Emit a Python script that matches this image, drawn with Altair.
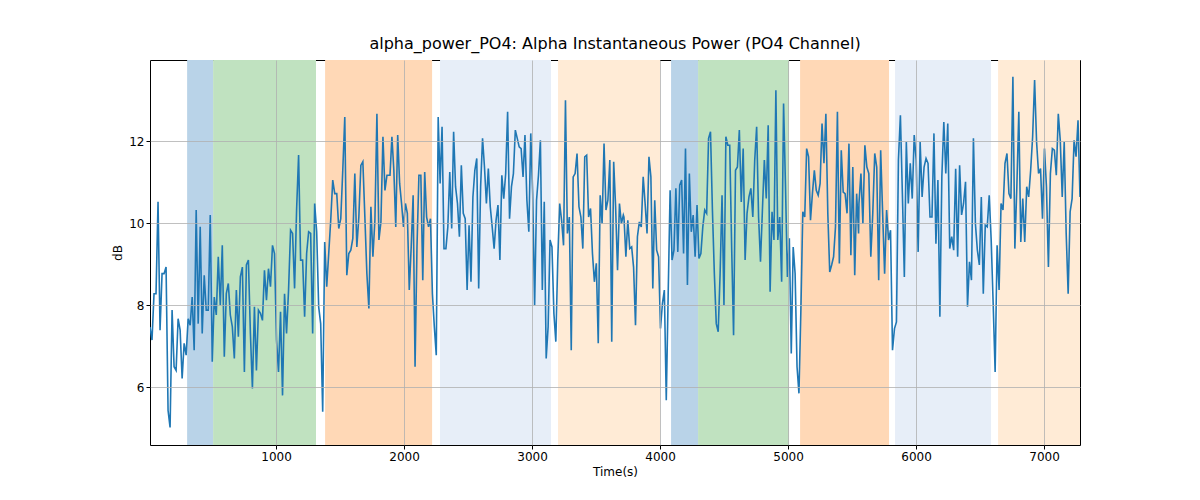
import altair as alt
import numpy as np
import pandas as pd

TITLE = "alpha_power_PO4: Alpha Instantaneous Power (PO4 Channel)"

# shaded epochs
span_start = [305, 508, 1383, 2281, 3203, 4086, 4297, 5094, 5836, 6641]
span_end = [508, 1312, 2219, 3148, 4000, 4297, 5008, 5789, 6586, 7281]
span_kind = ["a", "b", "c", "d", "e", "a", "b", "c", "d", "e"]
kind_colors = ["#b9d3e8", "#c0e2c0", "#ffd8b6", "#e7eef8", "#ffebd6"]

# signal, read chunk by chunk (start time, end time, values)
chunk1_t = (15, 1882)
chunk1 = [7.47, 7.15, 8.28, 8.28, 10.52, 7.39, 8.77, 8.77, 8.93, 5.43, 5.02, 7.88, 6.50, 6.41, 7.67,
          7.39, 6.21, 7.07, 6.78, 7.67, 7.51, 8.20, 6.90, 10.32, 7.55, 9.91, 7.31, 8.73, 7.88, 7.88,
          10.20, 6.62, 8.20, 7.76, 9.18, 8.00, 9.46, 6.74, 8.28, 8.53, 7.76, 7.47, 6.70, 8.37, 7.23,
          8.69, 8.93, 6.37, 8.98, 9.10, 7.31, 5.97, 7.96, 6.41, 7.88, 7.80, 7.63, 8.85, 8.12, 8.89,
          8.45, 9.46, 9.26, 7.15, 6.37, 7.84, 5.80, 8.28, 7.31, 8.37, 9.83, 9.75, 8.41, 10.32, 11.66,
          9.10, 9.10, 7.72, 9.26, 9.79, 9.75, 7.31, 10.48, 9.79, 7.96, 7.55, 5.40, 9.54, 8.45, 9.26,
          10.07, 11.05, 10.72, 10.72, 9.87, 10.11, 11.29, 12.59, 8.73, 9.26, 9.34, 9.63, 11.21, 9.42,
          10.15, 11.41, 11.50, 10.15, 8.77, 7.92, 10.40, 9.18, 10.07, 12.67, 9.59, 10.03, 12.11,
          10.80, 11.17, 11.17]
chunk2_t = (1890, 3713)
chunk2 = [11.17, 12.11, 11.29, 9.91, 12.15, 10.97, 10.48, 9.91, 10.48, 10.24, 8.37, 9.42, 10.68,
          6.50, 9.42, 11.17, 11.17, 8.61, 11.25, 10.15, 9.91, 10.11, 8.28, 7.47, 6.78, 12.59, 10.97,
          12.35, 9.38, 9.38, 9.91, 11.25, 9.87, 12.23, 10.89, 10.48, 9.67, 11.41, 10.24, 10.11, 8.37,
          9.95, 8.57, 10.64, 11.29, 11.58, 8.41, 10.89, 12.07, 11.37, 10.48, 11.33, 10.40, 9.91, 9.38,
          10.07, 10.44, 9.10, 11.17, 10.60, 11.21, 12.72, 10.11, 10.89, 11.21, 12.27, 12.07, 11.86,
          11.82, 11.13, 12.15, 10.56, 9.79, 12.19, 10.72, 8.00, 10.56, 11.17, 12.02, 8.37, 10.52,
          6.70, 7.47, 9.59, 9.42, 7.80, 7.11, 9.10, 10.48, 10.07, 9.46, 13.00, 9.75, 10.15, 6.90,
          11.13, 11.21, 11.70, 10.40, 10.15, 9.38, 11.62, 11.66, 10.15, 10.36, 9.26, 8.57, 9.02,
          7.07, 10.68, 9.99, 11.94, 10.32, 10.56, 11.54, 7.11, 11.50, 10.40, 8.85, 10.48, 9.99, 10.20]
chunk3_t = (3718, 5551)
chunk3 = [10.15, 9.18, 10.07, 9.38, 9.42, 8.93, 7.51, 9.67, 10.03, 9.91, 11.13, 10.48, 9.75, 11.62,
          11.13, 8.41, 10.56, 9.34, 9.18, 7.43, 8.04, 8.37, 5.68, 8.28, 10.80, 9.10, 9.34, 10.85,
          9.30, 10.93, 11.05, 9.26, 11.82, 8.49, 11.21, 9.79, 10.20, 9.18, 10.44, 9.14, 9.26, 9.91,
          10.32, 10.24, 12.07, 12.23, 10.32, 8.77, 7.55, 7.35, 8.77, 10.68, 8.00, 12.11, 11.90, 11.90,
          9.42, 7.27, 11.29, 11.37, 12.27, 10.52, 11.82, 9.10, 10.24, 10.64, 10.85, 10.15, 11.54,
          12.35, 10.15, 9.06, 10.32, 11.54, 10.60, 12.39, 8.33, 10.28, 9.59, 13.24, 9.59, 10.15, 8.57,
          12.92, 10.89, 8.69, 9.63, 6.82, 9.42, 8.77, 6.50, 5.85, 7.88, 10.28, 10.15, 11.82, 11.62,
          10.07, 10.72, 11.29, 10.80, 10.68, 10.97, 12.43, 11.46, 12.67, 10.24, 8.81, 8.98, 9.18,
          9.91, 12.72, 9.02, 11.78, 10.76, 10.72, 10.24, 11.94, 9.22, 11.37, 8.73, 10.72, 9.75]
chunk4_t = (5554, 7281)
chunk4 = [10.48, 11.21, 9.99, 11.90, 11.37, 11.21, 9.18, 10.24, 11.70, 11.37, 8.61, 11.78, 10.24,
          8.77, 10.32, 9.59, 9.83, 6.90, 7.43, 7.59, 11.54, 12.63, 10.72, 8.69, 11.98, 10.48, 11.46,
          10.60, 12.15, 11.54, 9.30, 11.98, 10.64, 11.37, 11.58, 11.46, 10.15, 10.15, 12.19, 9.50,
          11.05, 7.72, 11.13, 12.47, 11.21, 12.43, 9.38, 9.67, 9.34, 11.33, 9.18, 11.41, 10.20, 10.48,
          11.01, 7.96, 9.06, 8.61, 12.07, 9.99, 9.34, 8.98, 10.64, 8.28, 9.95, 9.91, 10.68, 9.59,
          8.04, 6.37, 9.46, 8.37, 10.48, 10.32, 11.46, 11.70, 10.72, 10.60, 13.57, 9.38, 10.89, 12.72,
          9.54, 10.60, 9.54, 10.89, 10.64, 11.29, 12.11, 13.49, 11.98, 11.21, 11.33, 10.11, 11.82,
          10.89, 8.93, 11.21, 11.82, 11.78, 11.17, 12.67, 12.02, 10.64, 11.98, 9.75, 8.28, 10.28,
          10.60, 12.02, 11.62, 12.51, 10.64]

frames = []
for (t0, t1), vals in [(chunk1_t, chunk1), (chunk2_t, chunk2), (chunk3_t, chunk3), (chunk4_t, chunk4)]:
    frames.append(pd.DataFrame({"t": np.linspace(t0, t1, len(vals)), "db": vals}))
signal = pd.concat(frames, ignore_index=True)

spans = pd.DataFrame({"start": span_start, "end": span_end, "kind": span_kind})

x_scale = alt.Scale(domain=[15, 7281], nice=False, zero=False)
y_scale = alt.Scale(domain=[4.59, 13.98], nice=False, zero=False)

x_axis = alt.Axis(title="Time(s)", values=list(range(1000, 8000, 1000)), format="d", zindex=1)
y_axis = alt.Axis(title="dB", values=[6, 8, 10, 12], zindex=1)

shade = alt.Chart(spans).mark_rect().encode(
    x=alt.X("start:Q", scale=x_scale, axis=x_axis),
    x2="end:Q",
    color=alt.Color("kind:N", scale=alt.Scale(domain=["a", "b", "c", "d", "e"], range=kind_colors), legend=None),
)

line = alt.Chart(signal).mark_line(color="#1f77b4", strokeWidth=1.6, clip=True).encode(
    x=alt.X("t:Q", scale=x_scale),
    y=alt.Y("db:Q", scale=y_scale, axis=y_axis),
)

chart = alt.layer(shade, line).properties(
    width=930,
    height=385,
    title=alt.TitleParams(TITLE, fontSize=16, fontWeight="normal", font="DejaVu Sans", offset=8),
    autosize=alt.AutoSizeParams(type="none"),
    padding={"left": 142, "top": 52, "right": 10, "bottom": 45},
).configure_view(
    stroke="black", strokeWidth=1
).configure_axis(
    labelFont="DejaVu Sans", titleFont="DejaVu Sans", labelFontSize=12, titleFontSize=12,
    titleFontWeight="normal", labelColor="black", titleColor="black",
    gridColor="#b0b0b0", gridWidth=0.8, domain=False, tickColor="black", tickSize=4,
)

chart.save("out.html", embed_options={"renderer": "svg", "actions": False})
